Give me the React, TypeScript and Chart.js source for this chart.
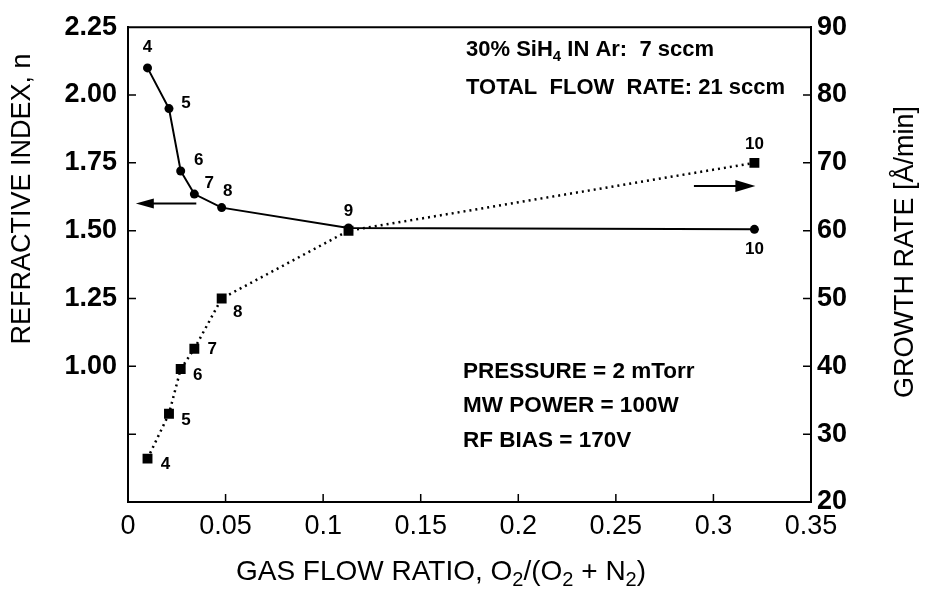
import React, { useEffect, useRef } from "react";
import { Chart, registerables } from "chart.js";

Chart.register(...registerables);

// O2 / (O2 + N2) gas flow ratio for runs 4–10
const flowRatio = [0.010, 0.021, 0.027, 0.034, 0.048, 0.113, 0.321];
// Refractive index n (left axis)
const refractiveIndex = [2.10, 1.95, 1.72, 1.635, 1.585, 1.51, 1.505];
// Growth rate in Å/min (right axis)
const growthRate = [26.4, 33.0, 39.6, 42.6, 50.0, 60.0, 70.0];
// Run numbers printed next to each point
const runLabels = ["4", "5", "6", "7", "8", "9", "10"];

// Axis ticks
const flowTicks = [0, 0.05, 0.1, 0.15, 0.2, 0.25, 0.3, 0.35];
const indexTicks = [0.5, 0.75, 1.0, 1.25, 1.5, 1.75, 2.0, 2.25];
const rateTicks = [20, 30, 40, 50, 60, 70, 80, 90];

// Run-number label offsets (px) from each marker
const indexLabelOffsets: [number, number][] = [
  [0, -21], [17, -5], [18, -11], [15, -11], [6, -16], [0, -17], [0, 20],
];
const rateLabelOffsets: ([number, number] | null)[] = [
  [18, 6], [17, 6], [17, 6], [18, 1], [16, 14], null, [0, -19],
];

const FONT = "'Liberation Sans', Arial, Helvetica, sans-serif";

type Seg = { t: string; sub?: boolean };

function drawRich(
  ctx: CanvasRenderingContext2D,
  segs: Seg[],
  x: number,
  y: number,
  size: number,
  weight: string,
  align: "left" | "center"
) {
  const subSize = Math.round(size * 0.7);
  const fontFor = (s: Seg) => `${weight} ${s.sub ? subSize : size}px ${FONT}`;
  let total = 0;
  for (const s of segs) {
    ctx.font = fontFor(s);
    total += ctx.measureText(s.t).width;
  }
  let cx = align === "center" ? x - total / 2 : x;
  ctx.textBaseline = "middle";
  ctx.textAlign = "left";
  for (const s of segs) {
    ctx.font = fontFor(s);
    ctx.fillText(s.t, cx, s.sub ? y + size * 0.32 : y);
    cx += ctx.measureText(s.t).width;
  }
}

function arrow(ctx: CanvasRenderingContext2D, x0: number, x1: number, y: number, headLen: number, headHalf: number) {
  const dir = Math.sign(x1 - x0);
  ctx.beginPath();
  ctx.moveTo(x0, y);
  ctx.lineTo(x1 - dir * headLen * 0.6, y);
  ctx.lineWidth = 2;
  ctx.strokeStyle = "#000";
  ctx.stroke();
  ctx.beginPath();
  ctx.moveTo(x1, y);
  ctx.lineTo(x1 - dir * headLen, y - headHalf);
  ctx.lineTo(x1 - dir * headLen, y + headHalf);
  ctx.closePath();
  ctx.fillStyle = "#000";
  ctx.fill();
}

const decorations = {
  id: "decorations",
  afterDraw(chart: any) {
    const { ctx, chartArea, scales } = chart;
    const xs = scales.x, yl = scales.y, yr = scales.y1;
    ctx.save();
    ctx.fillStyle = "#000";
    ctx.strokeStyle = "#000";

    // top frame line
    ctx.lineWidth = 2;
    ctx.beginPath();
    ctx.moveTo(chartArea.left, chartArea.top);
    ctx.lineTo(chartArea.right, chartArea.top);
    ctx.stroke();

    // inward tick marks
    const tl = 8;
    ctx.lineWidth = 1.5;
    ctx.beginPath();
    for (const v of flowTicks.slice(1, -1)) {
      const px = xs.getPixelForValue(v);
      ctx.moveTo(px, chartArea.bottom);
      ctx.lineTo(px, chartArea.bottom - tl);
    }
    for (const v of indexTicks.slice(1, -1)) {
      const py = yl.getPixelForValue(v);
      ctx.moveTo(chartArea.left, py);
      ctx.lineTo(chartArea.left + tl, py);
    }
    for (const v of rateTicks.slice(1, -1)) {
      const py = yr.getPixelForValue(v);
      ctx.moveTo(chartArea.right, py);
      ctx.lineTo(chartArea.right - tl, py);
    }
    ctx.stroke();

    // axis arrows
    arrow(ctx, xs.getPixelForValue(0.035), xs.getPixelForValue(0.004), yl.getPixelForValue(1.6), 18, 5);
    arrow(ctx, xs.getPixelForValue(0.29), xs.getPixelForValue(0.3215), yr.getPixelForValue(66.6), 20, 6);

    // run numbers
    ctx.font = `bold 17px ${FONT}`;
    ctx.textAlign = "center";
    ctx.textBaseline = "middle";
    const m0 = chart.getDatasetMeta(0).data;
    const m1 = chart.getDatasetMeta(1).data;
    runLabels.forEach((lab, i) => {
      const a = indexLabelOffsets[i];
      if (a) ctx.fillText(lab, m0[i].x + a[0], m0[i].y + a[1]);
      const b = rateLabelOffsets[i];
      if (b) ctx.fillText(lab, m1[i].x + b[0], m1[i].y + b[1]);
    });

    // process conditions
    const tx = chartArea.left + 338;
    drawRich(ctx, [{ t: "30% SiH" }, { t: "4", sub: true }, { t: " IN Ar:  7 sccm" }], tx, 50, 22, "bold", "left");
    drawRich(ctx, [{ t: "TOTAL  FLOW  RATE: 21 sccm" }], tx, 88, 22, "bold", "left");
    const bx = chartArea.left + 335;
    drawRich(ctx, [{ t: "PRESSURE = 2 mTorr" }], bx, 372, 22.5, "bold", "left");
    drawRich(ctx, [{ t: "MW POWER = 100W" }], bx, 406, 22.5, "bold", "left");
    drawRich(ctx, [{ t: "RF BIAS = 170V" }], bx, 441, 22.5, "bold", "left");

    // axis titles
    drawRich(
      ctx,
      [{ t: "GAS FLOW RATIO, O" }, { t: "2", sub: true }, { t: "/(O" }, { t: "2", sub: true }, { t: " + N" }, { t: "2", sub: true }, { t: ")" }],
      441, 572, 28, "normal", "center"
    );
    ctx.save();
    ctx.translate(23, 199);
    ctx.rotate(-Math.PI / 2);
    drawRich(ctx, [{ t: "REFRACTIVE INDEX, n" }], 0, 0, 27, "normal", "center");
    ctx.restore();
    ctx.save();
    ctx.translate(906, 252);
    ctx.rotate(-Math.PI / 2);
    drawRich(ctx, [{ t: "GROWTH RATE [Å/min]" }], 0, 0, 27, "normal", "center");
    ctx.restore();

    ctx.restore();
  },
};

export default function App() {
  const canvasRef = useRef<HTMLCanvasElement | null>(null);

  useEffect(() => {
    const canvas = canvasRef.current;
    if (!canvas) return;

    const indexPoints = flowRatio.map((x, i) => ({ x, y: refractiveIndex[i] }));
    const ratePoints = flowRatio.map((x, i) => ({ x, y: growthRate[i] }));

    const chart = new Chart(canvas, {
      type: "line",
      data: {
        datasets: [
          {
            label: "Refractive index",
            data: indexPoints,
            yAxisID: "y",
            borderColor: "#000",
            backgroundColor: "#000",
            borderWidth: 2,
            pointStyle: "circle",
            pointRadius: 4.5,
            pointBorderWidth: 0,
            order: 1,
          },
          {
            label: "Growth rate",
            data: ratePoints,
            yAxisID: "y1",
            borderColor: "#000",
            backgroundColor: "#000",
            borderWidth: 2.5,
            borderDash: [2, 4],
            pointStyle: "rect",
            pointRadius: 7,
            pointBorderWidth: 0,
            order: 0,
          },
        ],
      },
      options: {
        responsive: false,
        animation: false,
        layout: { padding: { top: 23, left: 0, right: 0, bottom: 0 } },
        plugins: { legend: { display: false }, tooltip: { enabled: false } },
        scales: {
          x: {
            type: "linear",
            position: "bottom",
            min: 0,
            max: 0.35,
            afterBuildTicks: (s: any) => {
              s.ticks = flowTicks.map((value) => ({ value }));
            },
            afterFit: (s: any) => {
              s.height = 95;
            },
            ticks: {
              color: "#000",
              padding: 8,
              maxRotation: 0,
              autoSkip: false,
              font: { family: FONT, size: 27 },
              callback: (v: any) => String(Number(Number(v).toFixed(2))),
            },
            grid: { display: false, drawTicks: false },
            border: { display: true, color: "#000", width: 2 },
          },
          y: {
            type: "linear",
            position: "left",
            min: 0.5,
            max: 2.25,
            afterBuildTicks: (s: any) => {
              s.ticks = indexTicks.map((value) => ({ value }));
            },
            afterFit: (s: any) => {
              s.width = 128;
            },
            ticks: {
              color: "#000",
              padding: 11,
              autoSkip: false,
              font: { family: FONT, size: 27, weight: "bold" },
              callback: (v: any) => (Number(v) < 1 ? "" : Number(v).toFixed(2)),
            },
            grid: { display: false, drawTicks: false },
            border: { display: true, color: "#000", width: 2 },
          },
          y1: {
            type: "linear",
            position: "right",
            min: 20,
            max: 90,
            afterBuildTicks: (s: any) => {
              s.ticks = rateTicks.map((value) => ({ value }));
            },
            afterFit: (s: any) => {
              s.width = 114;
            },
            ticks: {
              color: "#000",
              padding: 6,
              autoSkip: false,
              font: { family: FONT, size: 27, weight: "bold" },
              callback: (v: any) => String(v),
            },
            grid: { display: false, drawTicks: false },
            border: { display: true, color: "#000", width: 2 },
          },
        },
      },
      plugins: [decorations],
    });

    return () => chart.destroy();
  }, []);

  return (
    <div style={{ position: "fixed", left: 0, top: 0, width: 925, height: 597, background: "#fff" }}>
      <canvas ref={canvasRef} width={925} height={597} style={{ display: "block" }} />
    </div>
  );
}
